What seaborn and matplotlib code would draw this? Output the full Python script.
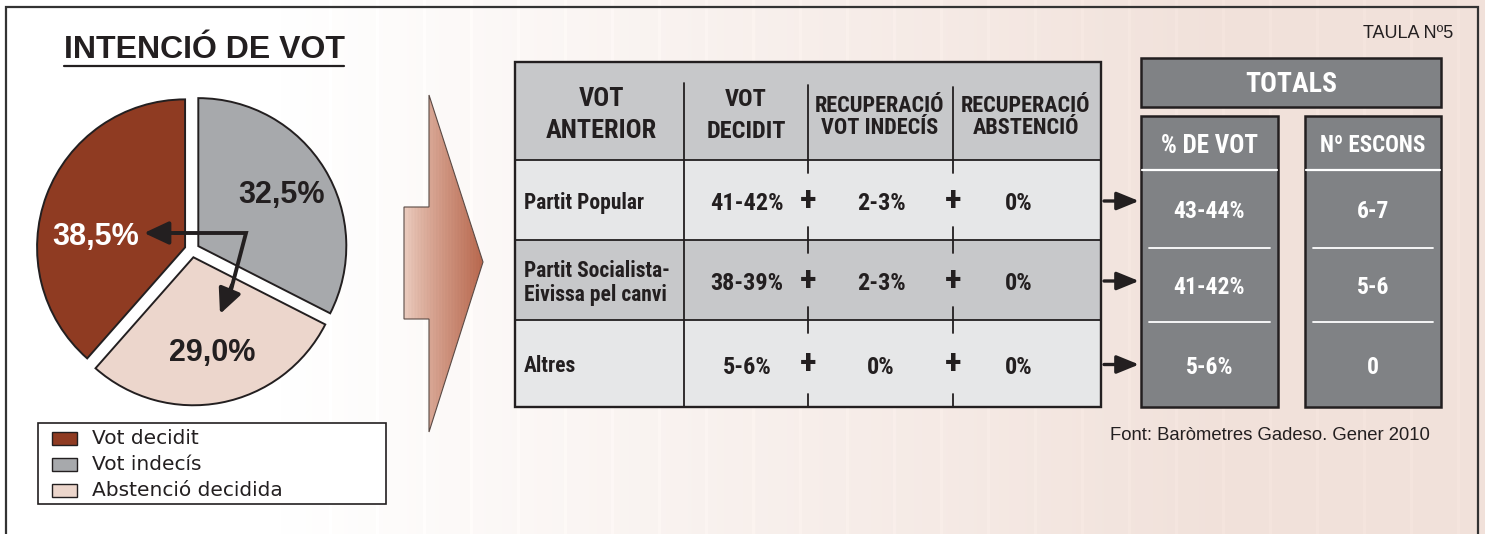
import numpy as np
import matplotlib
matplotlib.use("Agg")
import matplotlib.pyplot as plt
import seaborn as sns
from matplotlib.patches import Rectangle, Polygon
from matplotlib import font_manager as fm

# ---------------- data ----------------
title = "INTENCIÓ DE VOT"
pie_labels = ["Vot decidit", "Vot indecís", "Abstenció decidida"]
pie_values = [38.5, 32.5, 29.0]
pie_colors = ["#8f3b22", "#a7a9ac", "#ecd6cc"]

table_headers = ["VOT\nANTERIOR", "VOT\nDECIDIT", "RECUPERACIÓ\nVOT INDECÍS", "RECUPERACIÓ\nABSTENCIÓ"]
parties = ["Partit Popular", "Partit Socialista-\nEivissa pel canvi", "Altres"]
vot_decidit = ["41-42%", "38-39%", "5-6%"]
recup_indecis = ["2-3%", "2-3%", "0%"]
recup_abstencio = ["0%", "0%", "0%"]

totals_title = "TOTALS"
totals_headers = ["% DE VOT", "Nº ESCONS"]
pct_vot = ["43-44%", "41-42%", "5-6%"]
escons = ["6-7", "5-6", "0"]
table_id = "TAULA Nº5"
source = "Font: Baròmetres Gadeso. Gener 2010"

# ---------------- style ----------------
sns.set_theme(style="white")
plt.rcParams["font.family"] = ["Liberation Sans", "DejaVu Sans"]
avail = {f.name for f in fm.fontManager.ttflist}
NARROW = next((f for f in ["Liberation Sans Narrow", "Roboto Condensed", "Open Sans Condensed", "Arial Narrow"]
               if f in avail), "Liberation Sans")
NFAM = [NARROW, "DejaVu Sans"]
INK = "#231f20"

W, H = 1485, 534
fig = plt.figure(figsize=(W / 100, H / 100), dpi=100)

# background axes
bg = fig.add_axes([0, 0, 1, 1])
xs = np.arange(W)
t = np.clip((xs - 280) / 950.0, 0, 1)
white = np.array([1.0, 1.0, 1.0])
pink = np.array([241, 225, 218]) / 255
grad = white[None, :] * (1 - t[:, None]) + pink[None, :] * t[:, None]
stripe = ((xs % 47) < 3) & (xs > 320)
grad[stripe] = np.clip(grad[stripe] + 0.012, 0, 1)
bg.imshow(grad[None, :, :], extent=(0, W, H, 0), aspect="auto", zorder=0)
bg.set_xlim(0, W)
bg.set_ylim(H, 0)
bg.axis("off")

# pie axes
cx, cy, R = 192, 250, 148
half = 1.15 * R
pax = fig.add_axes([(cx - half) / W, (H - cy - half) / H, 2 * half / W, 2 * half / H])
wedges, texts, autotexts = pax.pie(
    pie_values, colors=pie_colors, startangle=90 + pie_values[0] * 3.6, counterclock=False,
    explode=[0.05] * 3, autopct=lambda p: f"{p:.1f}%".replace(".", ","), pctdistance=0.66,
    wedgeprops=dict(edgecolor=INK, linewidth=1.4),
    textprops=dict(fontsize=22, fontweight="bold", color=INK, family="Liberation Sans"))
autotexts[0].set_color("white")
autotexts[0].set_position((-0.65, 0.09))
pax.set_xlim(-1.15, 1.15)
pax.set_ylim(-1.15, 1.15)
pax.axis("off")

# overlay axes (pixel coordinates)
ox = fig.add_axes([0, 0, 1, 1])
ox.patch.set_alpha(0)
ox.axis("off")

# frame
ox.plot([6, 6, 1478, 1478], [H + 5, 7, 7, H + 5], color="#333333", lw=1.6, solid_joinstyle="miter")

# title
ox.text(204, 50, title, ha="center", va="center", fontsize=23, fontweight="bold", color=INK)
ox.plot([64, 344], [66, 66], color=INK, lw=1.6)

# arrows inside pie
ox.plot([175, 246, 231], [233, 233, 290], color=INK, lw=2.8, solid_joinstyle="miter", zorder=5)
def arrow(x0, y0, x1, y1, lw, hl, hw):
    ox.annotate("", xy=(x1, y1), xytext=(x0, y0),
                arrowprops=dict(arrowstyle=f"-|>,head_length={hl},head_width={hw}", lw=lw,
                                color=INK, shrinkA=0, shrinkB=0, mutation_scale=10), zorder=6)
arrow(180, 233, 144, 233, 2.8, 1.5, 0.7)
arrow(232, 285, 220, 314, 2.8, 1.5, 0.7)

# legend
ox.add_patch(Rectangle((38, 423), 348, 81, fc="white", ec=INK, lw=1.2, zorder=3))
for i, (lab, col) in enumerate(zip(pie_labels, pie_colors)):
    yy = 438 + i * 26
    ox.add_patch(Rectangle((52, yy - 6.5), 25, 13, fc=col, ec=INK, lw=1.0, zorder=4))
    ox.text(92, yy, lab, ha="left", va="center", fontsize=14.5, family="DejaVu Sans", color=INK, zorder=4)

# big arrow shape
pts = [(404, 207), (429, 207), (429, 95), (483, 262), (429, 432), (429, 319), (404, 319)]
poly = Polygon(pts, closed=True, fc="none", ec="#5a4a45", lw=0.8, zorder=4)
ox.add_patch(poly)
ax_n = 240
tt = np.linspace(0, 1, ax_n)
c0 = np.array([236, 206, 193]) / 255
c1 = np.array([184, 104, 78]) / 255
ramp = c0[None, :] * (1 - tt[:, None] ** 0.85) + c1[None, :] * (tt[:, None] ** 0.85)
ramp = ramp * (1 + 0.035 * np.sin(np.arange(ax_n) * 2 * np.pi / 4.5))[:, None]
im = ox.imshow(np.clip(ramp, 0, 1)[None, :, :], extent=(404, 483, 432, 95), aspect="auto", zorder=3)
im.set_clip_path(poly)

# table
col_x = [515, 684, 808, 953, 1101]
row_y = [62, 160, 240, 320, 407]
fills = ["#c7c8ca", "#e6e7e8", "#c7c8ca", "#e6e7e8"]
for i in range(4):
    ox.add_patch(Rectangle((col_x[0], row_y[i]), col_x[-1] - col_x[0], row_y[i + 1] - row_y[i],
                           fc=fills[i], ec="none", zorder=2))
for y in row_y[1:-1]:
    ox.plot([col_x[0], col_x[-1]], [y, y], color=INK, lw=1.3, zorder=4)
ox.add_patch(Rectangle((col_x[0], row_y[0]), col_x[-1] - col_x[0], row_y[-1] - row_y[0],
                       fc="none", ec=INK, lw=1.7, zorder=5))
ox.plot([col_x[1]] * 2, [83, row_y[-1]], color=INK, lw=1.3, zorder=4)
ox.plot([col_x[2]] * 2, [85, row_y[1]], color=INK, lw=1.3, zorder=4)
ox.plot([col_x[3]] * 2, [87, row_y[1]], color=INK, lw=1.3, zorder=4)
for cxp in (col_x[2], col_x[3]):
    for r in range(3):
        top, bot = row_y[r + 1], row_y[r + 2]
        ox.plot([cxp, cxp], [top, top + 13], color=INK, lw=1.3, zorder=4)
        ox.plot([cxp, cxp], [bot - 13, bot], color=INK, lw=1.3, zorder=4)
        ox.text(cxp, (top + bot) / 2 + 1, "+", ha="center", va="center", fontsize=25,
                fontweight="bold", family=NFAM, color=INK, zorder=5)

hdr_x = [601, 746, 880, 1026]
hdr_y = [115, 115, 117, 117]
hdr_fs = [19, 17.5, 16, 16]
hdr_ls = [1.45, 1.5, 1.05, 1.05]
for x, y, h, fs, ls in zip(hdr_x, hdr_y, table_headers, hdr_fs, hdr_ls):
    ox.text(x, y, h, ha="center", va="center", fontsize=fs, fontweight="bold", family=NFAM,
            color=INK, linespacing=ls, zorder=5)

for r in range(3):
    yc = (row_y[r + 1] + row_y[r + 2]) / 2 + 4
    ox.text(524, yc - 1, parties[r], ha="left", va="center", fontsize=15.5, fontweight="bold",
            family=NFAM, color=INK, linespacing=1.1, zorder=5)
    ox.text(747, yc, vot_decidit[r], ha="center", va="center", fontsize=17.5, fontweight="bold",
            family=NFAM, color=INK, zorder=5)
    ox.text(881, yc, recup_indecis[r], ha="center", va="center", fontsize=17.5, fontweight="bold",
            family=NFAM, color=INK, zorder=5)
    ox.text(1019, yc, recup_abstencio[r], ha="center", va="center", fontsize=17.5, fontweight="bold",
            family=NFAM, color=INK, zorder=5)
    ya = (row_y[r + 1] + row_y[r + 2]) / 2 + 1
    ox.annotate("", xy=(1139, ya), xytext=(1104, ya),
                arrowprops=dict(arrowstyle="-|>,head_length=1.35,head_width=0.55", lw=2.4, color=INK,
                                shrinkA=0, shrinkB=0, mutation_scale=10), zorder=6)

# totals
DG = "#808285"
ox.add_patch(Rectangle((1141, 58), 300, 49, fc=DG, ec=INK, lw=1.8, zorder=4))
ox.text(1291, 84, totals_title, ha="center", va="center", fontsize=20, fontweight="bold",
        family=NFAM, color="white", zorder=5)
sec_bounds = [170, 248, 322, 407]
hdr_sizes = [18, 16.5]
for (x0, x1), head, hs, vals in zip([(1141, 1278), (1305, 1441)], totals_headers, hdr_sizes, [pct_vot, escons]):
    ox.add_patch(Rectangle((x0, 116), x1 - x0, 407 - 116, fc=DG, ec=INK, lw=1.8, zorder=4))
    ox.plot([x0 + 1, x1 - 1], [170, 170], color="white", lw=1.6, zorder=5)
    for yl in sec_bounds[1:3]:
        ox.plot([x0 + 8, x1 - 8], [yl, yl], color="white", lw=1.3, zorder=5)
    xc = (x0 + x1) / 2
    ox.text(xc, 146, head, ha="center", va="center", fontsize=hs, fontweight="bold",
            family=NFAM, color="white", zorder=5)
    for k, v in enumerate(vals):
        yc = (sec_bounds[k] + sec_bounds[k + 1]) / 2 + 3
        ox.text(xc, yc, v, ha="center", va="center", fontsize=17, fontweight="bold",
                family=NFAM, color="white", zorder=5)

ox.text(1453, 34, table_id, ha="right", va="center", fontsize=13, color=INK)
ox.text(1110, 436, source, ha="left", va="center", fontsize=13.3, color=INK)

ox.set_xlim(0, W)
ox.set_ylim(H, 0)

fig.savefig("out.png", dpi=100)
